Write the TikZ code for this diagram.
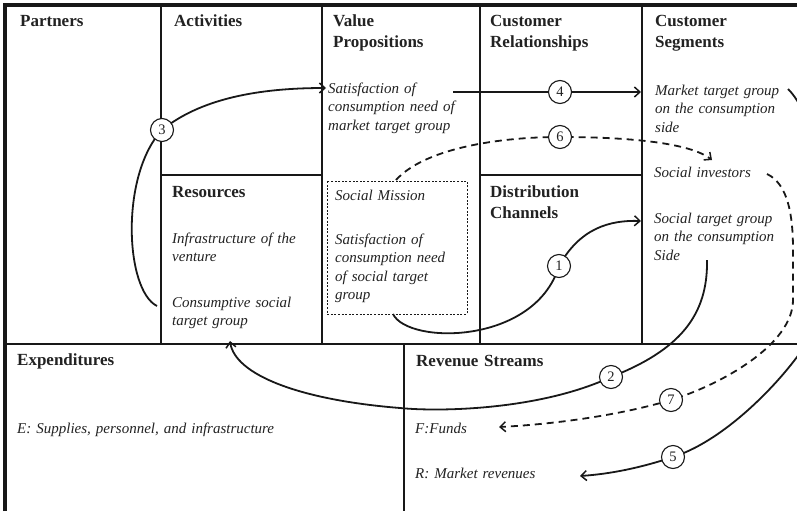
\documentclass[tikz,border=0pt]{standalone}
\usepackage{fontspec}
\setmainfont{Liberation Serif}
\usetikzlibrary{arrows.meta}
\definecolor{ink}{HTML}{181818}
\definecolor{txt}{HTML}{222222}
\begin{document}
\begin{tikzpicture}[x=1pt,y=-1pt,
  frame/.style={draw=ink,line width=3.4pt},
  grid/.style={draw=ink,line width=1.9pt},
  head/.style={anchor=base west,inner sep=0pt,text width=135pt,align=left,font=\fontsize{17}{21}\selectfont\bfseries,text=txt},
  item/.style={anchor=base west,inner sep=0pt,text width=135pt,align=left,font=\fontsize{15}{18.5}\selectfont\itshape,text=txt},
  flow/.style={draw=ink,line width=1.8pt,-{Straight Barb[length=5.5pt,width=10pt,line width=1.5pt]}},
  dflow/.style={flow,dash pattern=on 7pt off 5pt},
  num/.style={circle,draw=ink,solid,fill=white,line width=1.1pt,minimum size=23pt,inner sep=0pt,font=\fontsize{14.5}{14.5}\selectfont,text=txt},
  missionbox/.style={draw=ink,line width=1pt,dash pattern=on 2pt off 1.6pt}
]
\useasboundingbox (0,0) rectangle (797,511);

% canvas grid
\draw[frame] (5,511) -- (5,5) -- (797,5);
\draw[grid] (161,5) -- (161,344);
\draw[grid] (322,5) -- (322,344);
\draw[grid] (480,5) -- (480,344);
\draw[grid] (642,5) -- (642,344);
\draw[grid] (161,175) -- (322,175);
\draw[grid] (480,175) -- (642,175);
\draw[grid] (5,344) -- (797,344);
\draw[grid] (404,344) -- (404,511);

% block headings
\node[head] (partners) at (20,27) {Partners};
\node[head] (activities) at (174,27) {Activities};
\node[head] (value) at (333,27) {Value\\Propositions};
\node[head] (relations) at (490,27) {Customer\\Relationships};
\node[head] (segments) at (655,27) {Customer\\Segments};
\node[head] (resources) at (172,197) {Resources};
\node[head] (channels) at (490,197) {Distribution\\Channels};
\node[head] (expend) at (17,365) {Expenditures};
\node[head] (revenue) at (416,366) {Revenue Streams};

% block entries
\node[item] (vpmarket) at (328,93) {Satisfaction of\\consumption need of\\market target group};
\node[item] (csmarket) at (655,95) {Market target group\\on the consumption\\side};
\node[item] (investors) at (654,177) {Social investors};
\node[item] (cssocial) at (654,223) {Social target group\\on the consumption\\Side};
\node[item] (infra) at (172,243) {Infrastructure of the\\venture};
\node[item] (consum) at (172,307) {Consumptive social\\target group};
\node[item] (mission) at (335,200) {Social Mission};
\node[item] (vpsocial) at (335,244) {Satisfaction of\\consumption need\\of social target\\group};
\node[item,text width=280pt] (costs) at (17,433) {E: Supplies, personnel, and infrastructure};
\node[item] (funds) at (415,433) {F:Funds};
\node[item] (market) at (415,478) {R: Market revenues};

% social mission frame
\draw[missionbox] (327,181) rectangle (467,314);

% connector end points
\coordinate (a3s) at (157,306);
\coordinate (a3e) at (326,88);
\coordinate (a4s) at (453,92);
\coordinate (a4e) at (641,92);
\coordinate (a6s) at (396,180);
\coordinate (a6e) at (712,160);
\coordinate (a1s) at (393,314);
\coordinate (a1e) at (641,221);
\coordinate (a2s) at (707,260);
\coordinate (a2e) at (230,341);
\coordinate (a7s) at (767,174);
\coordinate (a7e) at (499,427);
\coordinate (a5s) at (788,89);
\coordinate (a5e) at (580,476);

% numbered flows
\draw[flow] (a3s) .. controls (125,290) and (120,175) .. (162,130) node[num] (n3) {3}
  .. controls (205,95) and (270,88) .. (a3e);
\draw[flow] (a4s) -- (560,92) node[num] (n4) {4} -- (a4e);
\draw[dflow] (a6s) .. controls (425,148) and (500,137) .. (560,137) node[num] (n6) {6}
  .. controls (630,137) and (690,143) .. (a6e);
\draw[flow] (a1s) .. controls (408,345) and (535,345) .. (559,266) node[num] (n1) {1}
  .. controls (580,228) and (610,220) .. (a1e);
\draw[flow] (a2s) .. controls (708,315) and (680,350) .. (611,377) node[num] (n2) {2}
  .. controls (540,410) and (440,412) .. (400,408)
  .. controls (300,400) and (235,375) .. (a2e);
\draw[dflow] (a7s) .. controls (788,184) and (793,215) .. (793,250) -- (793,300)
  .. controls (793,345) and (720,385) .. (671,400) node[num] (n7) {7}
  .. controls (610,418) and (540,425) .. (a7e);
\begin{scope}
  \clip (0,0) rectangle (797,511);
  \draw[flow] (a5s) .. controls (830,130) and (840,300) .. (797,357)
    .. controls (770,393) and (720,442) .. (673,457) node[num] (n5) {5}
    .. controls (640,468) and (610,474) .. (a5e);
\end{scope}
\end{tikzpicture}
\end{document}
